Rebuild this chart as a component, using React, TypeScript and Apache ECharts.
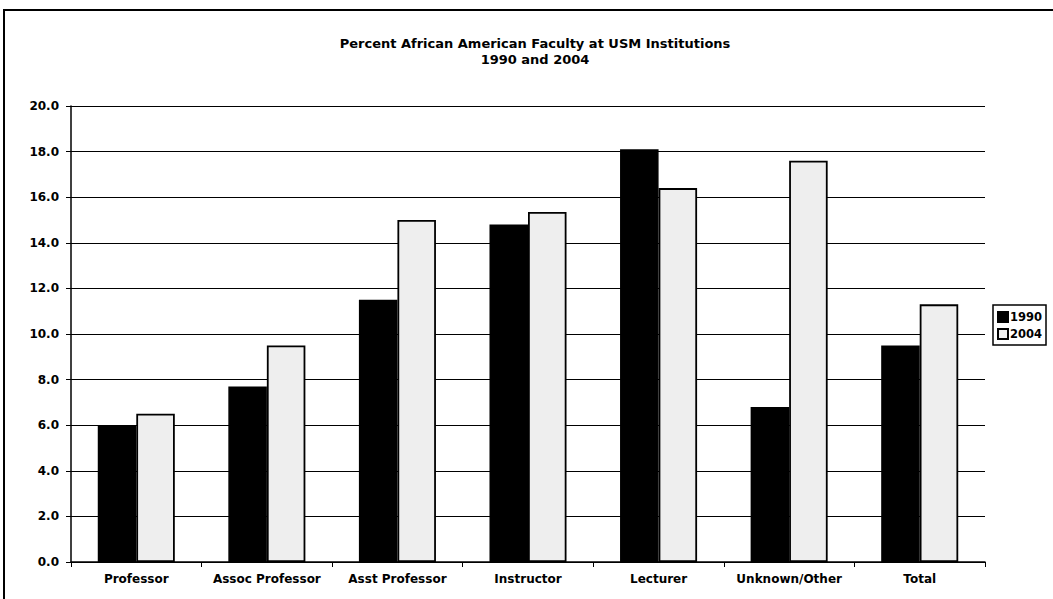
import React, { useEffect, useRef } from "react";
import * as echarts from "echarts";

const categories = ["Professor", "Assoc Professor", "Asst Professor", "Instructor", "Lecturer", "Unknown/Other", "Total"];
const values1990 = [6.0, 7.7, 11.5, 14.8, 18.1, 6.8, 9.5];
const values2004 = [6.5, 9.5, 15.0, 15.35, 16.4, 17.6, 11.3];
const seriesNames = ["1990", "2004"];
const titleLines = ["Percent African American Faculty at USM Institutions", "1990 and 2004"];

const FONT = "'DejaVu Sans', Arial, sans-serif";

export default function App() {
  const ref = useRef<HTMLDivElement>(null);
  useEffect(() => {
    if (!ref.current) return;
    const chart = echarts.init(ref.current, null, { renderer: "svg" });
    chart.setOption({
      animation: false,
      backgroundColor: "#ffffff",
      title: {
        text: titleLines.join("\n"),
        left: 530,
        textAlign: "center",
        top: 30,
        textStyle: { fontFamily: FONT, fontWeight: "bold", fontSize: 13, color: "#000", lineHeight: 16 },
      },
      legend: {
        orient: "vertical",
        left: 993,
        top: 305,
        itemWidth: 10,
        itemHeight: 10,
        itemGap: 5,
        padding: [6, 4, 5, 4],
        borderColor: "#000",
        borderWidth: 1.5,
        textStyle: { fontFamily: FONT, fontWeight: "bold", fontSize: 11.5, color: "#000", padding: [0, 0, 0, -3] },
        data: [
          { name: seriesNames[0], icon: "rect" },
          { name: seriesNames[1], icon: "rect" },
        ],
      },
      graphic: [
        {
          type: "rect",
          shape: { x: 4, y: 10, width: 1100, height: 700 },
          style: { fill: "none", stroke: "#000", lineWidth: 2 },
          silent: true,
        },
      ],
      grid: { left: 71, right: 68, top: 106, bottom: 37 },
      xAxis: {
        type: "category",
        data: categories,
        axisLine: { lineStyle: { color: "#000", width: 1.5 } },
        axisTick: { show: true, interval: 0, alignWithLabel: false, length: 5, lineStyle: { color: "#000" } },
        axisLabel: { interval: 0, hideOverlap: false, fontFamily: FONT, fontWeight: "bold", fontSize: 12, color: "#000", margin: 11 },
      },
      yAxis: {
        type: "value",
        min: 0,
        max: 20,
        interval: 2,
        axisLine: { show: true, lineStyle: { color: "#000", width: 1.5 } },
        axisTick: { show: true, length: 5, lineStyle: { color: "#000" } },
        splitLine: { show: true, lineStyle: { color: "#000", width: 1.2 } },
        axisLabel: {
          fontFamily: FONT,
          fontWeight: "bold",
          fontSize: 12,
          color: "#000",
          margin: 12,
          formatter: (v: number) => v.toFixed(1),
        },
      },
      series: [
        {
          name: seriesNames[0],
          type: "bar",
          data: values1990,
          barGap: "0%",
          barCategoryGap: "41%",
          itemStyle: { color: "#000", borderColor: "#000", borderWidth: 1.5 },
        },
        {
          name: seriesNames[1],
          type: "bar",
          data: values2004,
          itemStyle: {
            color: "#eeeeee",
            borderColor: "#000",
            borderWidth: 1.8,
          },
        },
      ],
    });
    return () => chart.dispose();
  }, []);
  return <div ref={ref} style={{ position: "fixed", left: 0, top: 0, width: 1053, height: 599 }} />;
}
